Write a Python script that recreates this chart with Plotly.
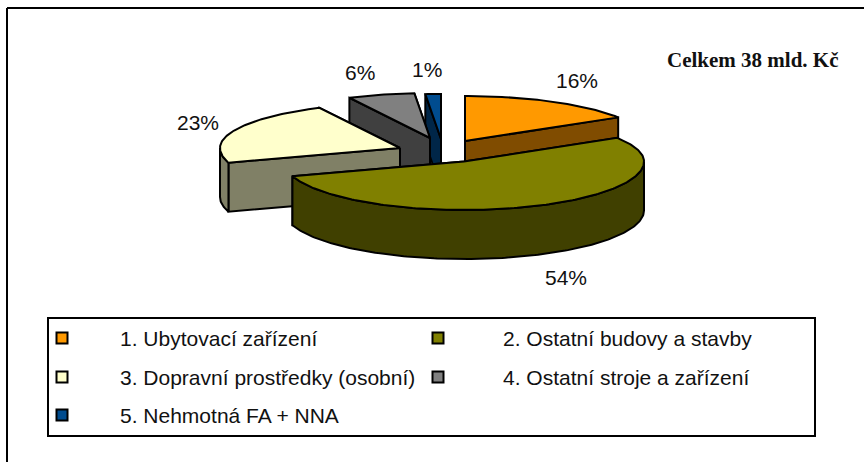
import numpy as np
import plotly.graph_objects as go

categories = ["1. Ubytovací zařízení", "2. Ostatní budovy a stavby",
              "3. Dopravní prostředky (osobní)", "4. Ostatní stroje a zařízení",
              "5. Nehmotná FA + NNA"]
values = [16.2, 53.9, 22.51, 6.0, 1.39]
top_colors = ["#FF9900", "#808000", "#FFFFCC", "#808080", "#004C8F"]
side_colors = ["#804C00", "#404000", "#808066", "#404040", "#002648"]
title_text = "Celkem 38 mld. Kč"

# geometry of the pseudo-3D pie, in page pixels
apex = [(465, 141), (464, 161.5), (400, 148), (430, 138), (441, 139)]
label_pos = [(577, 80), (566, 277), (198, 122), (360, 72), (427, 69)]
RX, RY_BACK, RY_FRONT, DEPTH = 180, 45, 48.5, 49
legend_rows = [338, 377, 415]
legend_swatch_x = [62, 438]
legend_text_x = [118, 501]

fractions = np.array(values) / sum(values) * 360
ends = np.cumsum(fractions)
starts = ends - fractions


def rim(cx, cy, a0, a1):
    a = np.radians(np.linspace(a0, a1, max(2, int(abs(a1 - a0)) + 2)))
    c = np.cos(a)
    ry = np.where(c > 0, RY_BACK, RY_FRONT)
    return cx + RX * np.sin(a), cy - ry * c


fig = go.Figure()


def poly(xs, ys, color):
    fig.add_trace(go.Scatter(
        x=list(xs) + [xs[0]], y=list(ys) + [ys[0]], mode="lines", fill="toself",
        fillcolor=color, line=dict(color="black", width=2),
        hoverinfo="skip", showlegend=False))


def wall(cx, cy, ex, ey, color):
    poly([cx, ex, ex, cx], [cy, ey, ey + DEPTH, cy + DEPTH], color)


for i in [4, 3, 0, 2, 1]:
    cx, cy = apex[i]
    a0, a1 = starts[i], ends[i]
    xs, ys = rim(cx, cy, a0, a1)
    wall(cx, cy, xs[-1], ys[-1], side_colors[i])
    wall(cx, cy, xs[0], ys[0], side_colors[i])
    f0, f1 = max(a0, 90), min(a1, 270)
    if f1 > f0:
        fx, fy = rim(cx, cy, f0, f1)
        poly(list(fx) + list(fx[::-1]), list(fy) + list(fy[::-1] + DEPTH), side_colors[i])
    poly([cx] + list(xs), [cy] + list(ys), top_colors[i])

annotations = []
for v, (lx, ly) in zip(values, label_pos):
    annotations.append(dict(x=lx, y=ly, text=f"{round(v)}%", showarrow=False,
                            font=dict(family="Liberation Sans", size=21, color="#111111")))
annotations.append(dict(x=752, y=60, text=f"<b>{title_text}</b>", showarrow=False,
                        font=dict(family="Liberation Serif", size=21, color="#111111")))

cells = [(0, 0), (1, 0), (0, 1), (1, 1), (0, 2)]
for i, (col, row) in enumerate(cells):
    annotations.append(dict(x=legend_text_x[col], y=legend_rows[row], text=categories[i],
                            showarrow=False, xanchor="left",
                            font=dict(family="Liberation Sans", size=21, color="#111111")))
    fig.add_trace(go.Scatter(
        x=[legend_swatch_x[col]], y=[legend_rows[row]], mode="markers",
        marker=dict(symbol="square", size=11, color=top_colors[i],
                    line=dict(color="black", width=2)),
        hoverinfo="skip", showlegend=False))

shapes = [
    dict(type="line", x0=7, x1=864, y0=8, y1=8, line=dict(color="black", width=2)),
    dict(type="line", x0=7, x1=7, y0=8, y1=462, line=dict(color="black", width=2)),
    dict(type="rect", x0=48, x1=815, y0=318, y1=436, line=dict(color="black", width=2)),
]

fig.update_layout(
    width=864, height=462, margin=dict(l=0, r=0, t=0, b=0),
    paper_bgcolor="white", plot_bgcolor="white", showlegend=False,
    xaxis=dict(range=[0, 864], visible=False, fixedrange=True),
    yaxis=dict(range=[462, 0], visible=False, fixedrange=True),
    annotations=annotations, shapes=shapes,
)
fig.write_html("out.html", config={"displayModeBar": False},
               post_script="document.body.style.margin='0';document.body.style.overflow='hidden';")
